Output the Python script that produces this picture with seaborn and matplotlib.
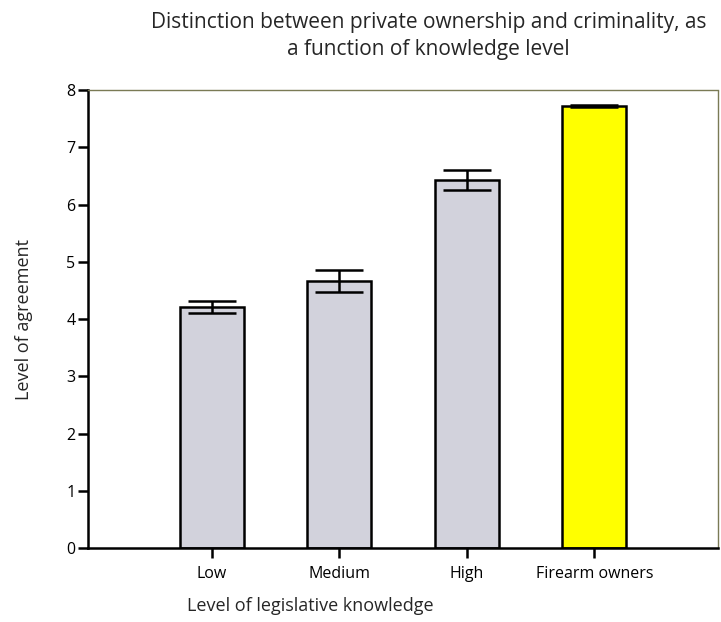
import matplotlib.pyplot as plt
import numpy as np
import pandas as pd
import seaborn as sns

sns.set_style("ticks")
plt.rcParams["font.family"] = ["Open Sans", "DejaVu Sans"]

groups = ["Low", "Medium", "High", "Firearm owners"]
agreement = [4.21, 4.66, 6.43, 7.72]
err = [0.10, 0.19, 0.17, 0.02]
bar_colors = ["#d2d2dc", "#d2d2dc", "#d2d2dc", "#ffff00"]

df = pd.DataFrame({"group": groups, "agreement": agreement})

fig = plt.figure(figsize=(7.21, 6.22), dpi=100)
ax = fig.add_axes([0.122, 0.119, 0.874, 0.736])

sns.barplot(data=df, x="group", y="agreement", hue="group", palette=bar_colors,
            legend=False, width=0.5, edgecolor="black", linewidth=1.8,
            saturation=1, errorbar=None, ax=ax)

ax.errorbar(np.arange(len(groups)), agreement, yerr=err, fmt="none",
            ecolor="black", elinewidth=1.8, capsize=17, capthick=1.8)

ax.set_ylim(0, 8)
ax.set_xlim(-0.97, 3.97)
ax.set_yticks(range(0, 9))
ax.tick_params(axis="both", direction="out", width=1.8, length=7,
               labelsize=11.5, colors="black")
ax.tick_params(axis="x", pad=6)
ax.tick_params(axis="y", pad=2)
for s in ["left", "bottom"]:
    ax.spines[s].set_linewidth(1.8)
    ax.spines[s].set_color("black")
for s in ["top", "right"]:
    ax.spines[s].set_visible(True)
    ax.spines[s].set_linestyle((0, (2, 1)))
    ax.spines[s].set_color("#7a7a55")
    ax.spines[s].set_linewidth(1.0)

ax.set_xlabel("Level of legislative knowledge", fontsize=13, labelpad=11,
              ha="left", x=0.157)
ax.set_ylabel("Level of agreement", fontsize=13, labelpad=24)
fig.text(0.594, 0.942, "Distinction between private ownership and criminality, as\n"
         "a function of knowledge level", ha="center", va="center",
         fontsize=15, linespacing=1.4)

plt.savefig("out.png", dpi=100)
